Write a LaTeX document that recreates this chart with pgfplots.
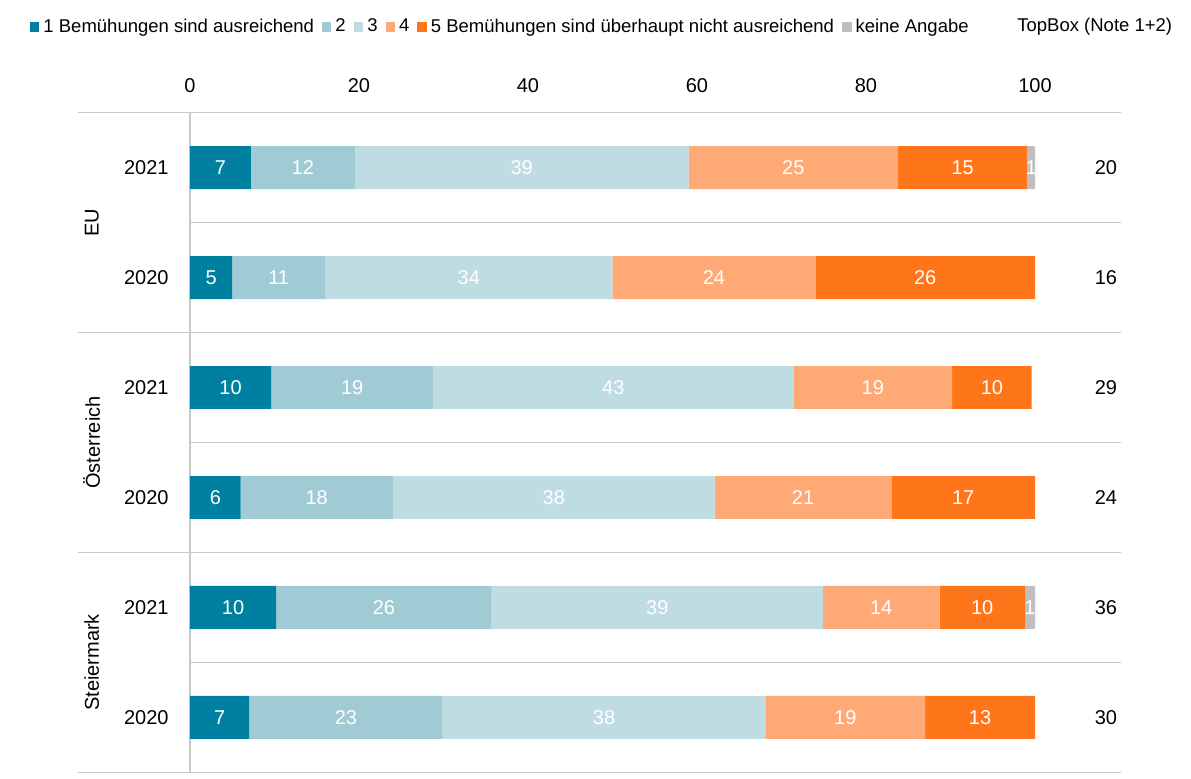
\documentclass[border=0pt]{standalone}
\usepackage{pgfplots}
\pgfplotsset{compat=1.18}
\usepackage{pgfplotstable}
\usepackage{fontspec}
\setmainfont{Liberation Sans}
\definecolor{c1}{RGB}{0,128,160}
\definecolor{c2}{RGB}{161,203,212}
\definecolor{c3}{RGB}{191,220,226}
\definecolor{c4}{RGB}{255,170,118}
\definecolor{c5}{RGB}{255,117,26}
\definecolor{c6}{RGB}{191,191,191}
\definecolor{gl}{RGB}{200,200,200}
\pgfplotsset{sqlegend/.style={legend image code/.code={\fill[##1] (0pt,-2.5pt) rectangle (4.75pt,2.5pt);}}}

\pgfplotstableread{
y v1 l1 v2 l2 v3 l3 v4 l4 v5 l5 v6 l6
0 7.2 7 12.3 12 39.5 39 24.8 25 15.3 15 0.9 1
1 5.0 5 11.0 11 34.0 34 24.0 24 26.0 26 0 {}
2 9.6 10 19.2 19 42.6 43 18.8 19 9.4 10 0 {}
3 6.0 6 18.0 18 38.1 38 20.9 21 17.0 17 0 {}
4 10.2 10 25.5 26 39.2 39 13.8 14 10.1 10 1.2 1
5 7.0 7 22.9 23 38.2 38 18.9 19 13.0 13 0 {}
}\data

\begin{document}
\begin{tikzpicture}
\begin{axis}[
  name=ax, at={(0,0)}, anchor=south west,
  scale only axis, width=422.5pt, height=329.8pt,
  set layers,
  xbar stacked, bar width=0.39,
  xmin=0, xmax=100, ymin=-0.5, ymax=5.5, y dir=reverse,
  enlargelimits=false, clip=false,
  axis line style={draw=none}, tick style={draw=none}, major tick length=0pt,
  /pgf/number format/assume math mode=true,
  xtick={0,20,40,60,80,100}, xticklabel pos=upper,
  xticklabel style={anchor=south, inner sep=0pt, yshift=9.65pt, font=\fontsize{10}{12}\selectfont},
  ytick={0,1,2,3,4,5}, yticklabels={2021,2020,2021,2020,2021,2020},
  yticklabel style={anchor=east, inner sep=0pt, xshift=-10.5pt, font=\fontsize{10}{12}\selectfont},
  nodes near coords, point meta=explicit symbolic,
  every node near coord/.append style={anchor=center, inner sep=0pt, text=white, font=\fontsize{10}{12}\selectfont},
  legend columns=-1,
  legend style={draw=none, fill=none, at={(axis description cs:0,1)}, anchor=west,
    xshift=-80pt, yshift=42.85pt, font=\fontsize{9.25}{11}\selectfont,
    inner sep=0pt, outer sep=0pt,
    /tikz/every even column/.append style={column sep=3.5pt},
    /tikz/every odd column/.append style={column sep=1.5pt},
    nodes={inner sep=0.5pt}},
]
\addplot[sqlegend, fill=c1, draw=none] table[x=v1,y=y,meta=l1]{\data};
\addlegendentry{1 Bemühungen sind ausreichend}
\addplot[sqlegend, fill=c2, draw=none] table[x=v2,y=y,meta=l2]{\data};
\addlegendentry{2}
\addplot[sqlegend, fill=c3, draw=none] table[x=v3,y=y,meta=l3]{\data};
\addlegendentry{3}
\addplot[sqlegend, fill=c4, draw=none] table[x=v4,y=y,meta=l4]{\data};
\addlegendentry{4}
\addplot[sqlegend, fill=c5, draw=none] table[x=v5,y=y,meta=l5]{\data};
\addlegendentry{5 Bemühungen sind überhaupt nicht ausreichend}
\addplot[sqlegend, fill=c6, draw=none] table[x=v6,y=y,meta=l6]{\data};
\addlegendentry{keine Angabe}

% separator lines
\draw[gl, line width=0.75pt, on layer=axis background] (axis cs:-13.25,-0.5) -- (axis cs:110.2,-0.5);
\draw[gl, line width=0.75pt, on layer=axis background] (axis cs:-13.25,1.5) -- (axis cs:110.2,1.5);
\draw[gl, line width=0.75pt, on layer=axis background] (axis cs:-13.25,3.5) -- (axis cs:110.2,3.5);
\draw[gl, line width=0.75pt, on layer=axis background] (axis cs:-13.25,5.5) -- (axis cs:110.2,5.5);
\draw[gl, line width=0.75pt, on layer=axis background] (axis cs:0,0.5) -- (axis cs:110.2,0.5);
\draw[gl, line width=0.75pt, on layer=axis background] (axis cs:0,2.5) -- (axis cs:110.2,2.5);
\draw[gl, line width=0.75pt, on layer=axis background] (axis cs:0,4.5) -- (axis cs:110.2,4.5);
\draw[gl, line width=0.75pt, on layer=axis background] (axis cs:0,-0.5) -- (axis cs:0,5.5);

% group labels
\node[rotate=90, font=\fontsize{10}{12}\selectfont] at (axis cs:-11.63,0.5) {EU};
\node[rotate=90, font=\fontsize{10}{12}\selectfont] at (axis cs:-11.63,2.5) {Österreich};
\node[rotate=90, font=\fontsize{10}{12}\selectfont] at (axis cs:-11.63,4.5) {Steiermark};

% TopBox column
\node[font=\fontsize{10}{12}\selectfont] at (axis cs:108.4,0) {20};
\node[font=\fontsize{10}{12}\selectfont] at (axis cs:108.4,1) {16};
\node[font=\fontsize{10}{12}\selectfont] at (axis cs:108.4,2) {29};
\node[font=\fontsize{10}{12}\selectfont] at (axis cs:108.4,3) {24};
\node[font=\fontsize{10}{12}\selectfont] at (axis cs:108.4,4) {36};
\node[font=\fontsize{10}{12}\selectfont] at (axis cs:108.4,5) {30};
\end{axis}
\node[anchor=west, inner sep=0pt, font=\fontsize{9.25}{11}\selectfont] at ([xshift=413.5pt,yshift=42.85pt]ax.north west) {TopBox (Note 1+2)};
\pgfresetboundingbox
\path[use as bounding box] ([xshift=-95pt,yshift=-2.85pt]ax.south west) rectangle ([xshift=500.5pt,yshift=386.15pt]ax.south west);
\end{tikzpicture}
\end{document}
